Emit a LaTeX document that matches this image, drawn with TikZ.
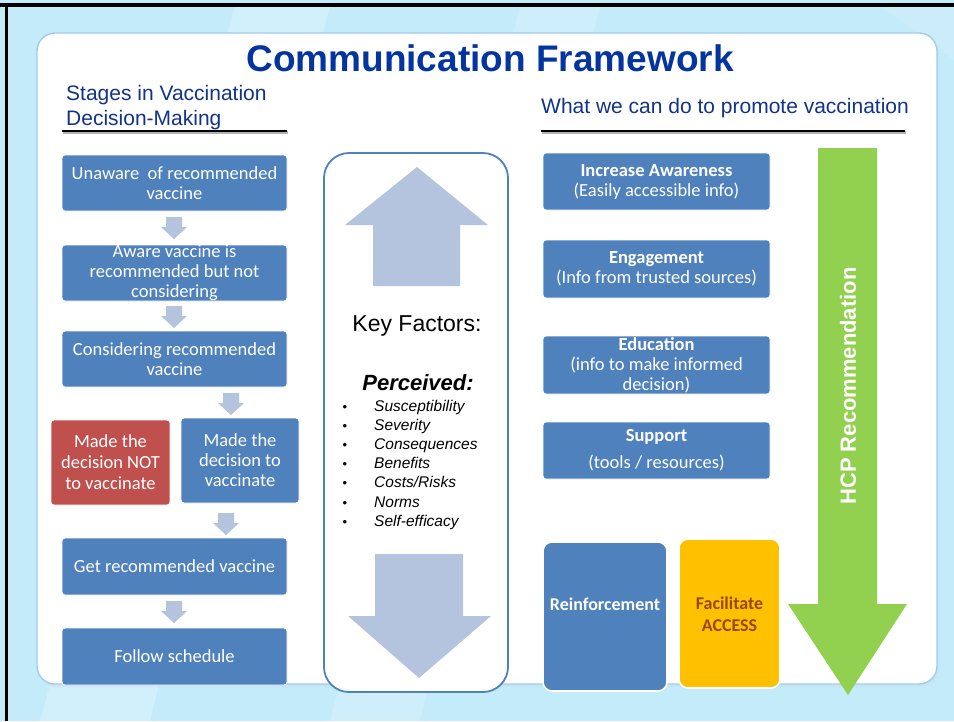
\documentclass[tikz,border=0pt]{standalone}
\usepackage{fontspec}
\setmainfont{Liberation Sans}
\newfontfamily\calfont{Carlito}
\definecolor{bgblue}{HTML}{C3EBFA}
\definecolor{panelborder}{HTML}{A2CCEA}
\definecolor{boxblue}{HTML}{4F81BD}
\definecolor{boxred}{HTML}{C0504D}
\definecolor{boxorange}{HTML}{FFC000}
\definecolor{orangetext}{HTML}{974806}
\definecolor{arrowblue}{HTML}{B4C3DE}
\definecolor{hcpgreen}{HTML}{92D050}
\definecolor{titleblue}{HTML}{0434A0}
\definecolor{headblue}{HTML}{12338A}
\tikzset{
  stagebox/.style={fill=boxblue, draw=white, line width=0.8pt, rounded corners=3pt,
    text=white, align=center, inner sep=0pt,
    font=\calfont\fontsize{18.5}{20}\selectfont},
  actbox/.style={stagebox, fill=boxblue},
  bigbox/.style={draw=white, line width=1.6pt, rounded corners=9pt, inner sep=0pt},
  dnarrow/.pic={\fill[arrowblue] (-8,0) -- (8,0) -- (8,10) -- (13,10) -- (0,22) -- (-13,10) -- (-8,10) -- cycle;},
  factor/.style={anchor=west, inner sep=0pt, text height=11pt, text depth=3pt, font=\itshape\fontsize{15.5}{18}\selectfont},
  dot/.style={inner sep=0pt, text height=11pt, text depth=3pt, font=\fontsize{13}{14}\selectfont}
}
\begin{document}
\begin{tikzpicture}[x=1pt,y=-1pt]
\useasboundingbox (0,0) rectangle (954,721);
% background
\fill[bgblue] (0,0) rectangle (954,721);
\fill[white,opacity=0.25] (235,6) -- (330,6) -- (150,721) -- (40,721) -- cycle;
\fill[white,opacity=0.18] (520,6) -- (600,6) -- (420,721) -- (330,721) -- cycle;
\fill[white,opacity=0.15] (880,6) -- (954,6) -- (954,60) -- cycle;
% black frame
\fill[black] (0,3) rectangle (954,6.5);
\fill[black] (5,3) rectangle (8,721);
% panel
\fill[panelborder!60,opacity=0.6] (39,36) [rounded corners=18pt] rectangle (939,687);
\draw[draw=panelborder, line width=1.4pt, fill=white, rounded corners=18pt] (37,33) rectangle (937,684);

% title and headers
\node (title) at (490,58) {\fontsize{37}{40}\selectfont\bfseries\color{titleblue}Communication Framework};
\node[anchor=west, inner sep=0pt, text=headblue, font=\fontsize{21}{25}\selectfont] (h1a) at (66,95) {Stages in Vaccination};
\node[anchor=west, inner sep=0pt, text=headblue, font=\fontsize{21}{25}\selectfont] (h1b) at (66,120) {Decision-Making};
\node[anchor=west, inner sep=0pt, text=headblue, font=\fontsize{21}{25}\selectfont] (h2) at (541,108) {What we can do to promote vaccination};
\coordinate (u1a) at (62,131); \coordinate (u1b) at (287,131);
\coordinate (u2a) at (541,131); \coordinate (u2b) at (905,131);
\draw[gray!60, line width=2.5pt] ([shift={(1,1.5)}]u1a) -- ([shift={(1,1.5)}]u1b);
\draw[black, line width=2.5pt] (u1a) -- (u1b);
\draw[gray!60, line width=2.5pt] ([shift={(1,1.5)}]u2a) -- ([shift={(1,1.5)}]u2b);
\draw[black, line width=2.5pt] (u2a) -- (u2b);

% left column stages
\node[stagebox, minimum width=225pt, minimum height=56pt] (s1) at (174.5,183) {Unaware\ \ of recommended\\vaccine};
\node[stagebox, minimum width=225pt, minimum height=56pt] (s2) at (174.5,273) {Aware vaccine is\\recommended but not\\considering};
\node[stagebox, minimum width=225pt, minimum height=56pt] (s3) at (174.5,359) {Considering recommended\\vaccine};
\node[stagebox, fill=boxred, minimum width=119pt, minimum height=85pt, font=\calfont\fontsize{18.5}{21}\selectfont] (s4) at (110.5,462.5) {Made the\\decision NOT\\to vaccinate};
\node[stagebox, minimum width=118pt, minimum height=85pt] (s5) at (240,460.5) {Made the\\decision to\\vaccinate};
\node[stagebox, minimum width=225pt, minimum height=57pt] (s6) at (174.5,566.5) {Get recommended vaccine};
\node[stagebox, minimum width=225pt, minimum height=57pt] (s7) at (174.5,656.5) {Follow schedule};
\pic at (174,217) {dnarrow};
\pic at (174,306) {dnarrow};
\pic at (231,393) {dnarrow};
\pic at (226,513) {dnarrow};
\pic at (174,601) {dnarrow};

% middle key factors
\draw[boxblue, line width=1.8pt, fill=white, rounded corners=25pt] (324,153) rectangle (508,692);
\fill[arrowblue] (417,167) -- (488,225) -- (460,225) -- (460,286) -- (373,286) -- (373,225) -- (345,225) -- cycle;
\fill[arrowblue] (375,554) -- (463,554) -- (463,616) -- (491,616) -- (419,678) -- (348,616) -- (375,616) -- cycle;
\node[font=\fontsize{23}{26}\selectfont] (kf) at (417,326) {Key Factors:};
\node[font=\bfseries\itshape\fontsize{22}{25}\selectfont] (perc) at (418,383) {Perceived:};
\foreach \t/\yy [count=\i] in {Susceptibility/407, Severity/426.2, Consequences/445.4, Benefits/464.6, Costs\slash Risks/483.8, Norms/503, Self-efficacy/522.2}{
  \node[dot] (b\i) at (345,\yy) {•};
  \node[factor] (f\i) at (374,\yy) {\t};
}

% right column actions
\node[actbox, minimum width=227pt, minimum height=57pt] (a1) at (656.5,181.5) {\textbf{Increase Awareness}\\(Easily accessible info)};
\node[actbox, minimum width=227pt, minimum height=58pt] (a2) at (656.5,269) {\textbf{Engagement}\\(Info from trusted sources)};
\node[actbox, minimum width=227pt, minimum height=58pt] (a3) at (656.5,365) {\textbf{Education}\\(info to make informed\\decision)};
\node[actbox, minimum width=227pt, minimum height=57pt] (a4) at (656.5,450.5) {\textbf{Support}\\[7pt](tools / resources)};

% bottom boxes
\node[bigbox, fill=boxblue, minimum width=124pt, minimum height=149pt] (reinf) at (605,616.5) {};
\node[text=white, font=\calfont\bfseries\fontsize{18}{20}\selectfont] (reinft) at ([yshift=12pt]reinf.center) {Reinforcement};
\node[bigbox, fill=boxorange, minimum width=101pt, minimum height=149pt] (facil) at (729.5,613.5) {};
\node[text=orangetext, align=center, font=\calfont\bfseries\fontsize{18}{22}\selectfont] (facilt) at ([yshift=-1pt]facil.center) {Facilitate\\ACCESS};

% HCP arrow
\fill[hcpgreen] (818,148) -- (877,148) -- (877,604) -- (907,604) -- (848,695) -- (788,604) -- (818,604) -- cycle;
\node[rotate=90, text=white, font=\bfseries\fontsize{22}{25}\selectfont] (hcp) at (848,386) {HCP Recommendation};
\end{tikzpicture}
\end{document}
